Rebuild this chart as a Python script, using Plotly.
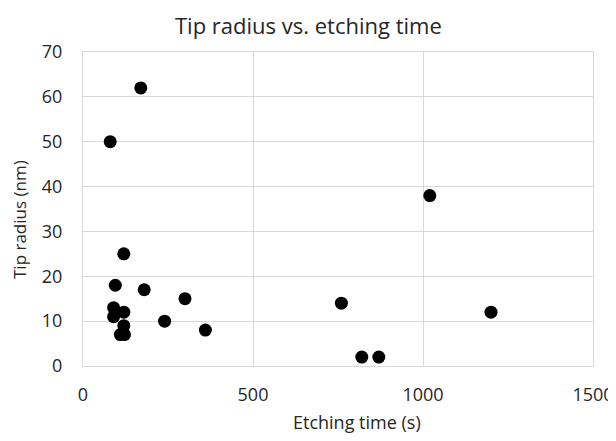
import plotly.graph_objects as go

etching_time = [80, 170, 120, 95, 180, 90, 90, 120, 120, 110, 122, 240, 300, 360, 760, 820, 870, 1020, 1200]
tip_radius = [50, 62, 25, 18, 17, 13, 11, 12, 9, 7, 7, 10, 15, 8, 14, 2, 2, 38, 12]

x_ticks = [0, 500, 1000, 1500]
y_ticks = [0, 10, 20, 30, 40, 50, 60, 70]

font_family = "Open Sans, sans-serif"
grid = "#d9d9d9"
text_color = "#262626"

# page has an 8px body margin, so the figure is sized to fit the window
W, H = 608, 433
L, R, T, B = 75, 23, 44, 75
pw, ph = W - L - R, H - T - B

fig = go.Figure(go.Scatter(
    x=etching_time, y=tip_radius, mode="markers",
    marker=dict(color="black", size=13),
))

fig.update_layout(
    width=W, height=H,
    margin=dict(l=L, r=R, t=T, b=B, autoexpand=False),
    paper_bgcolor="white", plot_bgcolor="white",
    font=dict(family=font_family, size=18, color=text_color),
    showlegend=False,
    annotations=[
        dict(text="Tip radius vs. etching time", xref="paper", yref="paper",
             x=(300 - L) / pw, y=(T + ph - 1) / ph, xanchor="center", yanchor="top",
             showarrow=False, borderpad=0, font=dict(size=22, color=text_color)),
        dict(text="Etching time (s)", xref="paper", yref="paper",
             x=(349 - L) / pw, y=(T + ph - 414) / ph, xanchor="center", yanchor="middle",
             showarrow=False, font=dict(size=18, color=text_color)),
        dict(text="Tip radius (nm)", xref="paper", yref="paper", textangle=-90,
             x=(11 - L) / pw, y=(T + ph - 212) / ph, xanchor="center", yanchor="middle",
             showarrow=False, borderpad=0, font=dict(size=17, color=text_color)),
    ],
)
fig.update_xaxes(
    range=[0, 1500], tickvals=x_ticks, showgrid=True, gridcolor=grid, gridwidth=1,
    showline=True, mirror=True, linecolor=grid, linewidth=1, zeroline=False,
    ticklabelstandoff=12, automargin=False,
)
fig.update_yaxes(
    range=[0, 70], tickvals=y_ticks, showgrid=True, gridcolor=grid, gridwidth=1,
    showline=True, mirror=True, linecolor=grid, linewidth=1, zeroline=False,
    ticklabelstandoff=16, automargin=False,
)

fig.write_html("out.html")
